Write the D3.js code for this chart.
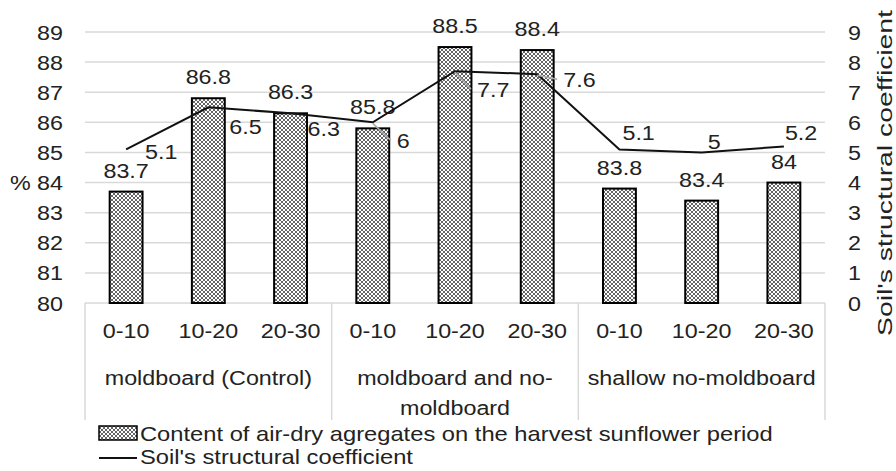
<!DOCTYPE html>
<html>
<head>
<meta charset="utf-8">
<script src="https://cdn.jsdelivr.net/npm/d3@7"></script>
<style>
  body { margin: 0; background: #fff; }
  text { font-family: "Liberation Sans", Arial, sans-serif; fill: #222; }
</style>
</head>
<body>
<div id="chart"></div>
<script>
// chart data
const depths = ["0-10", "10-20", "20-30", "0-10", "10-20", "20-30", "0-10", "10-20", "20-30"];
const groups = [["moldboard (Control)"], ["moldboard and no-", "moldboard"], ["shallow no-moldboard"]];
const aggregates = [83.7, 86.8, 86.3, 85.8, 88.5, 88.4, 83.8, 83.4, 84.0];
const coefficient = [5.1, 6.5, 6.3, 6, 7.7, 7.6, 5.1, 5, 5.2];
const leftTicks = [80, 81, 82, 83, 84, 85, 86, 87, 88, 89];
const rightTicks = [0, 1, 2, 3, 4, 5, 6, 7, 8, 9];
const legendLabels = ["Content of air-dry agregates on the harvest sunflower period", "Soil's structural coefficient"];

// label nudges for the line values (left edge dx, centre dy)
const lineLabelShift = [[19, 2], [21, 19], [17, 15], [24, 18], [22, 18], [26, 5], [3, -17], [6, -11], [1, -14]];

const width = 896, height = 471;
const plot = { left: 85, right: 825, top: 32, bottom: 303 };
const fs = 21, sx = 1.11;

const svg = d3.select("#chart").append("svg")
  .attr("width", width)
  .attr("height", height);

// bar texture
const pat = svg.append("defs").append("pattern")
  .attr("id", "dots")
  .attr("patternUnits", "userSpaceOnUse")
  .attr("width", 4).attr("height", 4);
pat.append("rect").attr("width", 4).attr("height", 4).attr("fill", "#fff");
[[0, 0], [4, 0], [0, 4], [4, 4], [2, 2]].forEach(p => {
  pat.append("circle").attr("cx", p[0]).attr("cy", p[1]).attr("r", 0.95).attr("fill", "#222");
});

function label(x, y, str, anchor, scale) {
  const g = svg.append("g").attr("transform", `translate(${x},${y}) scale(${scale || sx},1)`);
  return g.append("text")
    .attr("text-anchor", anchor || "middle")
    .attr("font-size", fs)
    .text(str);
}

const x = d3.scaleBand()
  .domain(d3.range(depths.length))
  .range([plot.left, plot.right])
  .paddingInner(0.6)
  .paddingOuter(0.3);
const step = x.step();

const yL = d3.scaleLinear().domain([80, 89]).range([plot.bottom, plot.top]);
const yR = d3.scaleLinear().domain([0, 9]).range([plot.bottom, plot.top]);

// gridlines
svg.append("g").selectAll("line")
  .data(leftTicks)
  .join("line")
  .attr("x1", plot.left).attr("x2", plot.right)
  .attr("y1", d => yL(d)).attr("y2", d => yL(d))
  .attr("stroke", "#d9d9d9")
  .attr("stroke-width", 1.5);

// group dividers below axis
svg.append("g").selectAll("line")
  .data(d3.range(groups.length + 1))
  .join("line")
  .attr("x1", i => plot.left + i * 3 * step)
  .attr("x2", i => plot.left + i * 3 * step)
  .attr("y1", plot.bottom).attr("y2", 420)
  .attr("stroke", "#d9d9d9")
  .attr("stroke-width", 1.5);

// left ticks
leftTicks.forEach(t => label(63, yL(t) + 7.5, t, "end"));
label(10, yL(84) + 7.5, "%", "start");

// right ticks
rightTicks.forEach(t => label(848, yR(t) + 7.5, t, "start"));
svg.append("text")
  .attr("transform", `translate(892,173) rotate(-90)`)
  .attr("text-anchor", "middle")
  .attr("font-size", fs)
  .attr("textLength", 326)
  .attr("lengthAdjust", "spacingAndGlyphs")
  .text("Soil's structural coefficient");

// bars
svg.append("g").selectAll("rect")
  .data(aggregates)
  .join("rect")
  .attr("x", (d, i) => x(i))
  .attr("width", x.bandwidth())
  .attr("y", d => yL(d))
  .attr("height", d => yL(80) - yL(d))
  .attr("fill", "url(#dots)")
  .attr("stroke", "#000")
  .attr("stroke-width", 2);

// bar value labels
aggregates.forEach((d, i) => label(x(i) + x.bandwidth() / 2, yL(d) - 14, d.toFixed(1).replace(".0", "")));

// line
const line = d3.line()
  .x((d, i) => x(i) + x.bandwidth() / 2)
  .y(d => yR(d));
svg.append("path")
  .datum(coefficient)
  .attr("d", line)
  .attr("fill", "none")
  .attr("stroke", "#111")
  .attr("stroke-width", 2);

// leader lines for a few labels
[3, 4, 5].forEach(i => {
  const px = x(i) + x.bandwidth() / 2, py = yR(coefficient[i]);
  const s = lineLabelShift[i];
  svg.append("line")
    .attr("x1", px).attr("y1", py + 1)
    .attr("x2", px + s[0] - 6).attr("y2", py + s[1])
    .attr("stroke", "#aaa")
    .attr("stroke-width", 1.5);
});

// line value labels
coefficient.forEach((d, i) => {
  const s = lineLabelShift[i];
  label(x(i) + x.bandwidth() / 2 + s[0], yR(d) + s[1] + 7.5, d, "start");
});

// category labels
depths.forEach((d, i) => label(x(i) + x.bandwidth() / 2, 338, d));
groups.forEach((lines, g) => {
  const cx = plot.left + (g * 3 + 1.5) * step;
  lines.forEach((t, k) => label(cx, 385 + k * 30, t));
});

// legend
svg.append("rect")
  .attr("x", 99).attr("y", 426)
  .attr("width", 38).attr("height", 14)
  .attr("fill", "url(#dots)")
  .attr("stroke", "#000")
  .attr("stroke-width", 1.5);
label(140, 441, legendLabels[0], "start", 1.13);
svg.append("line")
  .attr("x1", 99).attr("x2", 137)
  .attr("y1", 458).attr("y2", 458)
  .attr("stroke", "#111")
  .attr("stroke-width", 2);
label(140, 464, legendLabels[1], "start", 1.13);
</script>
</body>
</html>
